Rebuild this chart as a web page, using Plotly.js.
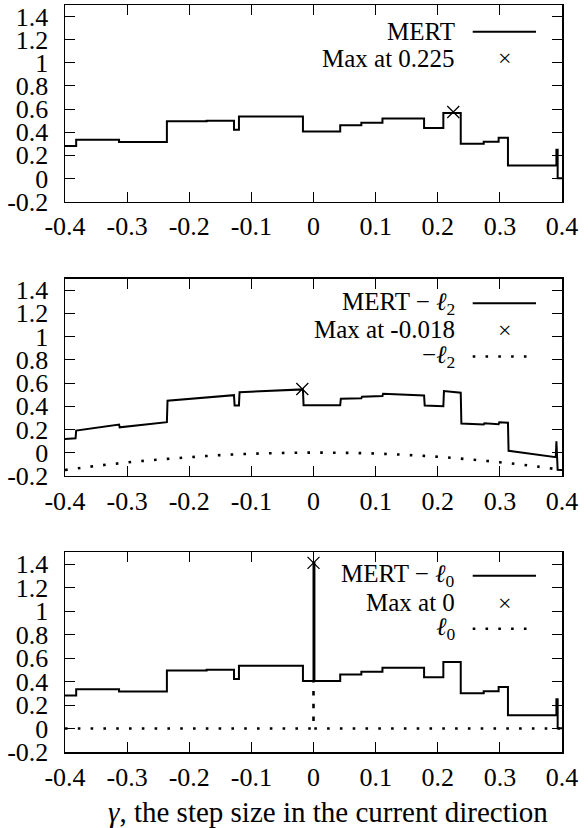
<!DOCTYPE html>
<html>
<head>
<meta charset="utf-8">
<script src="https://cdn.plot.ly/plotly-3.0.1.min.js"></script>
<style>html,body{margin:0;padding:0;background:#fff;}#chart{width:588px;height:828px;}</style>
</head>
<body>
<div id="chart"></div>
<script>
// ---------- data ----------
// Panel 1: MERT (step function, value holds until next breakpoint)
const mertX = [-0.4, -0.382, -0.313, -0.236, -0.172, -0.128, -0.120, -0.017, 0.043, 0.077, 0.111, 0.178, 0.209, 0.237, 0.274, 0.298, 0.313, 0.391, 0.393, 0.4];
const mertY = [0.28, 0.335, 0.315, 0.494, 0.50, 0.422, 0.535, 0.407, 0.46, 0.483, 0.518, 0.437, 0.567, 0.30, 0.318, 0.353, 0.112, 0.249, 0.003, 0.003];
const max1X = [0.225];
const max1Y = [0.575];

// Panel 2: MERT - l2 (sloped segments)
const mertL2X = [-0.4, -0.383, -0.382, -0.313, -0.312, -0.236, -0.235, -0.128, -0.127, -0.120, -0.119, -0.017, -0.016, 0.043, 0.044, 0.077, 0.078, 0.111, 0.112, 0.178, 0.179, 0.209, 0.210, 0.237, 0.238, 0.274, 0.275, 0.298, 0.299, 0.313, 0.314, 0.390, 0.391, 0.393, 0.4];
const mertL2Y = [0.118, 0.124, 0.19, 0.242, 0.218, 0.262, 0.447, 0.495, 0.406, 0.406, 0.521, 0.545, 0.409, 0.408, 0.465, 0.468, 0.482, 0.488, 0.508, 0.493, 0.406, 0.40, 0.53, 0.516, 0.25, 0.243, 0.252, 0.245, 0.262, 0.257, 0.016, -0.039, 0.097, -0.148, -0.15];
const max2X = [-0.018];
const max2Y = [0.548];
const negL2X = [-0.4, -0.35, -0.3, -0.25, -0.2, -0.15, -0.1, -0.05, 0, 0.05, 0.1, 0.15, 0.2, 0.25, 0.3, 0.35, 0.4];
const negL2Y = [-0.15, -0.115, -0.085, -0.06, -0.04, -0.022, -0.01, -0.003, 0, -0.002, -0.008, -0.02, -0.036, -0.058, -0.083, -0.113, -0.15];

// Panel 3: MERT - l0 (step function with spike at 0)
const mertL0X = [-0.4, -0.382, -0.313, -0.236, -0.172, -0.128, -0.120, -0.017, 0, 0.0015, 0.043, 0.077, 0.111, 0.178, 0.209, 0.237, 0.274, 0.298, 0.313, 0.391, 0.393, 0.4];
const mertL0Y = [0.28, 0.335, 0.315, 0.494, 0.50, 0.422, 0.535, 0.405, 1.41, 0.405, 0.46, 0.483, 0.518, 0.437, 0.567, 0.30, 0.318, 0.353, 0.112, 0.249, 0.003, 0.003];
const max3X = [0];
const max3Y = [1.41];
const l0X = [-0.4, 0, 0, 0, 0.4];
const l0Y = [0, 0, 0.41, 0, 0];

// ticks
const xTickVals = [-0.4, -0.3, -0.2, -0.1, 0, 0.1, 0.2, 0.3, 0.4];
const xTickText = ["-0.4", "-0.3", "-0.2", "-0.1", "0", "0.1", "0.2", "0.3", "0.4"];
const yTickVals = [-0.2, 0, 0.2, 0.4, 0.6, 0.8, 1, 1.2, 1.4];
const yTickText = ["-0.2", "0", "0.2", "0.4", "0.6", "0.8", "1", "1.2", "1.4"];

// legend labels
const legend1 = ["MERT", "Max at 0.225"];
const legend2 = ["MERT − <i>ℓ</i><sub>2</sub>", "Max at -0.018", "−<i>ℓ</i><sub>2</sub>"];
const legend3 = ["MERT − <i>ℓ</i><sub>0</sub>", "Max at 0", "<i>ℓ</i><sub>0</sub>"];
const xTitle = "<i>γ</i>, the step size in the current direction";

// ---------- layout helpers ----------
const W = 588, H = 828, ML = 65, MR = 26, MT = 5, MB = 75.7;
const PW = W - ML - MR, PH = H - MT - MB;
const yp = py => (H - MB - py) / PH;
const xp = px => (px - ML) / PW;
const FONT = "Liberation Serif";
const FS = 26;
const LFS = 25;

const solid = {color: "#000", width: 2};
const dotted = {color: "#000", width: 2.6, dash: "2.6px,10.2px"};
const xmark = {symbol: "x-thin-open", size: 12, color: "#000", line: {color: "#000", width: 1.3}};

const traces = [
  {x: mertX, y: mertY, mode: "lines", line: Object.assign({shape: "hv"}, solid), xaxis: "x", yaxis: "y"},
  {x: max1X, y: max1Y, mode: "markers", marker: xmark, xaxis: "x", yaxis: "y"},
  {x: negL2X, y: negL2Y, mode: "lines", line: Object.assign({shape: "spline"}, dotted), xaxis: "x2", yaxis: "y2"},
  {x: mertL2X, y: mertL2Y, mode: "lines", line: solid, xaxis: "x2", yaxis: "y2"},
  {x: max2X, y: max2Y, mode: "markers", marker: xmark, xaxis: "x2", yaxis: "y2"},
  {x: l0X, y: l0Y, mode: "lines", line: dotted, xaxis: "x3", yaxis: "y3"},
  {x: mertL0X, y: mertL0Y, mode: "lines", line: Object.assign({shape: "hv"}, solid), xaxis: "x3", yaxis: "y3"},
  {x: max3X, y: max3Y, mode: "markers", marker: xmark, xaxis: "x3", yaxis: "y3"}
];

function xax(anchor) {
  return {
    domain: [0, 1], anchor: anchor, range: [-0.4, 0.4],
    tickmode: "array", tickvals: xTickVals, ticktext: xTickText,
    ticks: "inside", ticklen: 10, tickwidth: 1, tickcolor: "#000",
    showline: true, linewidth: 1.5, linecolor: "#000", mirror: "allticks",
    showgrid: false, zeroline: false, ticklabelstandoff: 1,
    tickfont: {family: FONT, size: FS, color: "#000"}, fixedrange: true
  };
}
function yax(anchor, dom) {
  return {
    domain: dom, anchor: anchor, range: [-0.2, 1.5],
    tickmode: "array", tickvals: yTickVals, ticktext: yTickText,
    ticks: "inside", ticklen: 10, tickwidth: 1, tickcolor: "#000",
    showline: true, linewidth: 1.5, linecolor: "#000", mirror: "allticks",
    showgrid: false, zeroline: false, ticklabelstandoff: 10,
    tickfont: {family: FONT, size: FS, color: "#000"}, fixedrange: true
  };
}

// legend drawn manually (text right-aligned, sample on the right)
const TXT_R = 457, LINE_L = 472.7, LINE_R = 536, MARK_X = 505;
const annotations = [], shapes = [];
function legText(txt, py) {
  annotations.push({xref: "paper", yref: "paper", x: xp(TXT_R), y: yp(py), xanchor: "right", yanchor: "middle",
    text: txt, showarrow: false, font: {family: FONT, size: LFS, color: "#000"}});
}
function legLine(py, dash) {
  shapes.push({type: "line", xref: "paper", yref: "paper", x0: xp(LINE_L), x1: xp(LINE_R), y0: yp(py), y1: yp(py),
    line: dash ? {color: "#000", width: 2.6, dash: "2.6px,10.2px"} : {color: "#000", width: 2}});
}
function legMark(py) {
  annotations.push({xref: "paper", yref: "paper", x: xp(MARK_X), y: yp(py), xanchor: "center", yanchor: "middle",
    text: "×", showarrow: false, font: {family: FONT, size: 24, color: "#000"}});
}
// panel 1
legText(legend1[0], 31.7); legLine(31.7, false);
legText(legend1[1], 58.3); legMark(58.3);
// panel 2
legText(legend2[0], 303.3); legLine(303.3, false);
legText(legend2[1], 330); legMark(330);
legText(legend2[2], 356.7); legLine(356.7, true);
// panel 3
legText(legend3[0], 576); legLine(576, false);
legText(legend3[1], 603); legMark(603);
legText(legend3[2], 629); legLine(629, true);

// x-axis title (bottom panel)
annotations.push({xref: "paper", yref: "paper", x: xp(328), y: yp(812), xanchor: "center", yanchor: "middle",
  text: xTitle, showarrow: false, font: {family: FONT, size: 29, color: "#000"}});

const layout = {
  width: W, height: H,
  margin: {l: ML, r: MR, t: MT, b: MB, pad: 0},
  paper_bgcolor: "#fff", plot_bgcolor: "#fff",
  showlegend: false,
  font: {family: FONT, size: FS, color: "#000"},
  xaxis: xax("y"), yaxis: yax("x", [yp(201.7), yp(5)]),
  xaxis2: xax("y2"), yaxis2: yax("x2", [yp(476), yp(278.7)]),
  xaxis3: xax("y3"), yaxis3: yax("x3", [0, yp(552.5)]),
  annotations: annotations, shapes: shapes
};

Plotly.newPlot("chart", traces, layout, {displayModeBar: false, staticPlot: true});
</script>
</body>
</html>
